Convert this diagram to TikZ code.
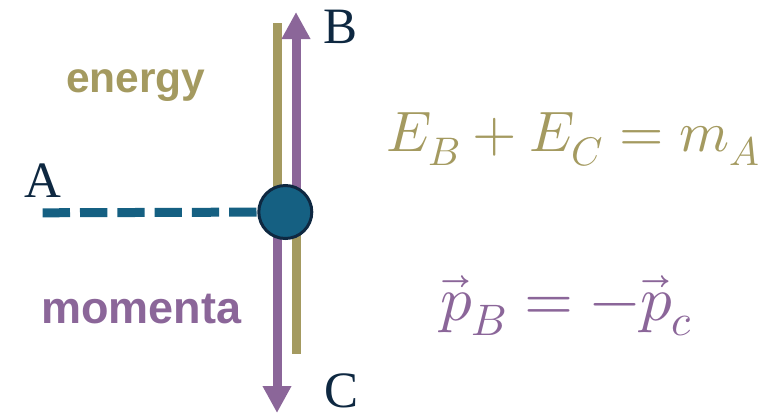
\documentclass[tikz,border=0pt]{standalone}
\usepackage{unicode-math}
\setmainfont{Liberation Serif}
\setmathfont{Latin Modern Math}
\newfontfamily\labsans{Liberation Sans}
\usetikzlibrary{arrows.meta}
\pgfdeclarelayer{behind}
\pgfsetlayers{behind,main}
\definecolor{olivec}{HTML}{A49A60}
\definecolor{purplec}{HTML}{8B6699}
\definecolor{tealc}{HTML}{156082}
\definecolor{navyc}{HTML}{0E2841}
\tikzset{
  oliveline/.style={draw=olivec, line width=9pt},
  purplearrow/.style={draw=purplec, line width=9pt, -{Triangle[width=27pt,length=27pt]}},
  particle/.style={circle, fill=tealc, draw=navyc, line width=3pt, minimum size=53pt, inner sep=0pt},
  ptlabel/.style={anchor=base, text=navyc, font=\fontsize{51}{60}\selectfont, inner sep=0pt},
  wordlabel/.style={anchor=base west, inner sep=0pt, font=\labsans\bfseries},
  eqlabel/.style={anchor=base west, inner sep=0pt}
}
\begin{document}
\begin{tikzpicture}[x=1pt,y=-1pt]
\useasboundingbox (0,0) rectangle (779,418);
\coordinate (Aend) at (42.7,212.8);
\coordinate (Otop) at (277,23);
\coordinate (Obot) at (296,354);
\coordinate (Ptop) at (296,12);
\coordinate (Pbot) at (277,413);
\coordinate (Oj1) at (277,212);
\coordinate (Oj2) at (296,212);
\node[particle] (P) at (285.3,212) {};
\begin{pgfonlayer}{behind}
\draw[oliveline] (Otop) -- (Oj1) -- (Oj2) -- (Obot);
\draw[purplearrow] (Oj2) -- (Ptop);
\draw[purplearrow] (Oj1) -- (Pbot);
\draw[draw=tealc, line width=9pt, dash pattern=on 27.3pt off 10pt] (Aend) -- (P.center);
\end{pgfonlayer}
\node[ptlabel] (A) at (42.5,197) {A};
\node[ptlabel] (B) at (341,43) {B};
\node[ptlabel] (C) at (342,407) {C};
\node[wordlabel, text=olivec, font=\labsans\bfseries\fontsize{42.5}{50}\selectfont] (energy) at (66,92.3) {energy};
\node[wordlabel, text=purplec, font=\labsans\bfseries\fontsize{45}{52}\selectfont] (momenta) at (41,323.3) {momenta};
\node[eqlabel, text=olivec, font=\fontsize{57}{68}\selectfont] (eq1) at (386,151.7) {$E_B+E_C=m_A$};
\node[eqlabel, text=purplec, font=\fontsize{63}{74}\selectfont] (eq2) at (440,320) {$\vec{p}_B=-\vec{p}_c$};
\end{tikzpicture}
\end{document}
